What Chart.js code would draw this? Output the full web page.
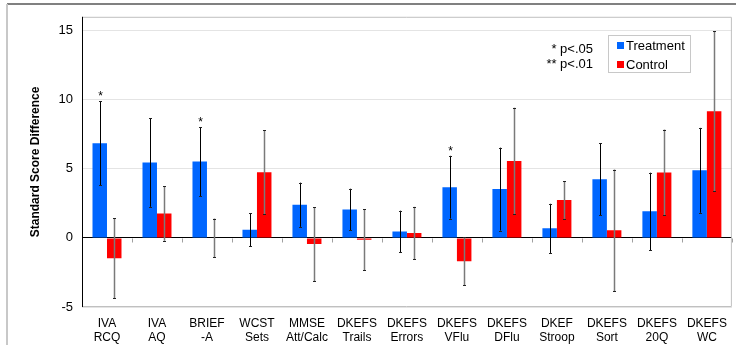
<!DOCTYPE html>
<html>
<head>
<meta charset="utf-8">
<script src="https://cdn.jsdelivr.net/npm/chart.js@4"></script>
<style>
  html, body { margin: 0; padding: 0; background: #fff; }
  #wrap { position: relative; width: 736px; height: 345px; }
</style>
</head>
<body>
<div id="wrap"><canvas id="chart" width="736" height="345"></canvas></div>
<script>
// ── DONNÉES ───────────────────────────────────────
const categories = [
  ['IVA', 'RCQ'], ['IVA', 'AQ'], ['BRIEF', '-A'], ['WCST', 'Sets'], ['MMSE', 'Att/Calc'],
  ['DKEFS', 'Trails'], ['DKEFS', 'Errors'], ['DKEFS', 'VFlu'], ['DKEFS', 'DFlu'],
  ['DKEF', 'Stroop'], ['DKEFS', 'Sort'], ['DKEFS', '20Q'], ['DKEFS', 'WC']
];
const treatment    = [6.85, 5.45, 5.52, 0.59, 2.40, 2.06, 0.47, 3.67, 3.53, 0.69, 4.25, 1.92, 4.89];
const treatmentErr = [3.05, 3.20, 2.50, 1.20, 1.60, 1.50, 1.50, 2.27, 3.00, 1.78, 2.60, 2.80, 3.07];
const control      = [-1.47, 1.76, 0.00, 4.75, -0.45, -0.14, 0.35, -1.69, 5.57, 2.75, 0.55, 4.74, 9.17];
const controlErr   = [2.90, 1.97, 1.40, 3.05, 2.67, 2.20, 1.90, 1.74, 3.85, 1.37, 4.40, 3.10, 5.80];
const treatmentSig = ['*', '', '*', '', '', '', '', '*', '', '', '', '', ''];
const yTicks = [-5, 0, 5, 10, 15];
const notes  = ['* p<.05', '** p<.01'];

const COULEURS = {
  bleu:   '#0066ff',
  rouge:  '#ff0000',
  grille: '#e4e4e4',
  cadre:  '#c0c0c0'
};

const POLICE = "'Liberation Sans', Arial, sans-serif";
Chart.defaults.font.family = POLICE;
Chart.defaults.color = '#000';

// ── PLUGIN : barres d'erreur, étoiles, légende, cadre ─
const decor = {
  id: 'decor',
  beforeDraw(chart) {
    const ctx = chart.ctx;
    ctx.save();
    ctx.fillStyle = '#fff';
    ctx.fillRect(0, 0, chart.width, chart.height);
    // cadre extérieur
    ctx.fillStyle = '#808080';
    ctx.fillRect(7, 3, chart.width - 7, 2);
    ctx.fillStyle = '#c8c8c8';
    ctx.fillRect(6, 4, 2, chart.height - 4);
    ctx.restore();
  },
  afterDatasetsDraw(chart) {
    const ctx = chart.ctx;
    const y = chart.scales.y;
    const x = chart.scales.x;
    const a = chart.chartArea;
    ctx.save();

    // petits repères sous la ligne zéro, entre catégories
    const y0 = Math.round(y.getPixelForValue(0)) + 0.5;
    const pas = x.getPixelForValue(1) - x.getPixelForValue(0);
    ctx.strokeStyle = '#a0a0a0';
    ctx.lineWidth = 1;
    for (let i = 0; i < categories.length; i++) {
      const xb = Math.round(x.getPixelForValue(i) + pas / 2) + 0.5;
      ctx.beginPath();
      ctx.moveTo(xb, y0);
      ctx.lineTo(xb, y0 + 4);
      ctx.stroke();
    }

    // barres d'erreur
    const series = [
      { valeurs: treatment, err: treatmentErr, ligne: '#000000', largeur: 1 },
      { valeurs: control,   err: controlErr,   ligne: '#7a7a7a', largeur: 1.5 }
    ];
    series.forEach(function(s, di) {
      const meta = chart.getDatasetMeta(di);
      meta.data.forEach(function(bar, i) {
        const cx = Math.round(bar.x) + 0.5;
        const top = y.getPixelForValue(s.valeurs[i] + s.err[i]);
        const bot = y.getPixelForValue(s.valeurs[i] - s.err[i]);
        ctx.strokeStyle = s.ligne;
        ctx.lineWidth = s.largeur;
        ctx.beginPath();
        ctx.moveTo(cx, top);
        ctx.lineTo(cx, bot);
        ctx.stroke();
        ctx.strokeStyle = '#222';
        ctx.lineWidth = 1;
        ctx.beginPath();
        ctx.moveTo(cx - 1.5, Math.round(top) + 0.5);
        ctx.lineTo(cx + 1.5, Math.round(top) + 0.5);
        ctx.moveTo(cx - 1.5, Math.round(bot) + 0.5);
        ctx.lineTo(cx + 1.5, Math.round(bot) + 0.5);
        ctx.stroke();
        if (di === 0 && treatmentSig[i]) {
          ctx.fillStyle = '#000';
          ctx.font = '12px ' + POLICE;
          ctx.textAlign = 'center';
          ctx.textBaseline = 'alphabetic';
          ctx.fillText(treatmentSig[i], cx, top - 1);
        }
      });
    });

    // bordure de la zone de tracé
    ctx.strokeStyle = COULEURS.cadre;
    ctx.lineWidth = 1;
    ctx.beginPath();
    ctx.moveTo(a.left, a.top + 0.5);
    ctx.lineTo(a.right - 0.5, a.top + 0.5);
    ctx.lineTo(a.right - 0.5, a.bottom - 0.5);
    ctx.lineTo(a.left, a.bottom - 0.5);
    ctx.stroke();
    ctx.strokeStyle = '#000';
    ctx.beginPath();
    ctx.moveTo(a.left + 0.5, a.top);
    ctx.lineTo(a.left + 0.5, a.bottom);
    ctx.stroke();

    // notes de significativité
    ctx.font = '13px ' + POLICE;
    ctx.fillStyle = '#000';
    ctx.textAlign = 'right';
    ctx.textBaseline = 'middle';
    notes.forEach(function(t, i) { ctx.fillText(t, 593, 49 + i * 15); });

    // légende
    ctx.fillStyle = '#fff';
    ctx.fillRect(608, 35, 82, 37);
    ctx.strokeStyle = '#c8c8c8';
    ctx.strokeRect(608.5, 35.5, 82, 37);
    chart.data.datasets.forEach(function(ds, i) {
      const ly = 45 + i * 19;
      ctx.fillStyle = ds.backgroundColor;
      ctx.fillRect(617, ly - 3, 7, 7);
      ctx.fillStyle = '#000';
      ctx.textAlign = 'left';
      ctx.fillText(ds.label, 626, ly + 1);
    });
    ctx.restore();
  }
};

new Chart(document.getElementById('chart'), {
  type: 'bar',
  data: {
    labels: categories,
    datasets: [
      { label: 'Treatment', data: treatment, backgroundColor: COULEURS.bleu },
      { label: 'Control',   data: control,   backgroundColor: COULEURS.rouge }
    ]
  },
  options: {
    responsive: false,
    devicePixelRatio: 1,
    animation: false,
    categoryPercentage: 0.58,
    barPercentage: 1,
    layout: { padding: { top: 12, right: 3, left: 20, bottom: 0 } },
    plugins: { legend: { display: false }, tooltip: { enabled: false } },
    scales: {
      x: {
        grid: { display: false, drawTicks: false },
        border: { display: false },
        ticks: { font: { size: 12 }, padding: 9, maxRotation: 0, autoSkip: false, color: '#000' },
        afterFit: function(s) { s.height = 38; }
      },
      y: {
        min: -5,
        max: 16,
        afterBuildTicks: function(s) { s.ticks = yTicks.map(function(v) { return { value: v }; }); },
        grid: {
          drawTicks: false,
          color: function(c) { return c.tick && c.tick.value === 0 ? '#000' : COULEURS.grille; }
        },
        border: { display: false },
        ticks: { font: { size: 13 }, padding: 9, color: '#000' },
        title: {
          display: true,
          text: 'Standard Score Difference',
          font: { size: 12, weight: 'bold' },
          color: '#000',
          padding: { top: 8, bottom: 0 }
        },
        afterFit: function(s) { s.width = 62; }
      }
    }
  },
  plugins: [decor]
});
</script>
</body>
</html>
